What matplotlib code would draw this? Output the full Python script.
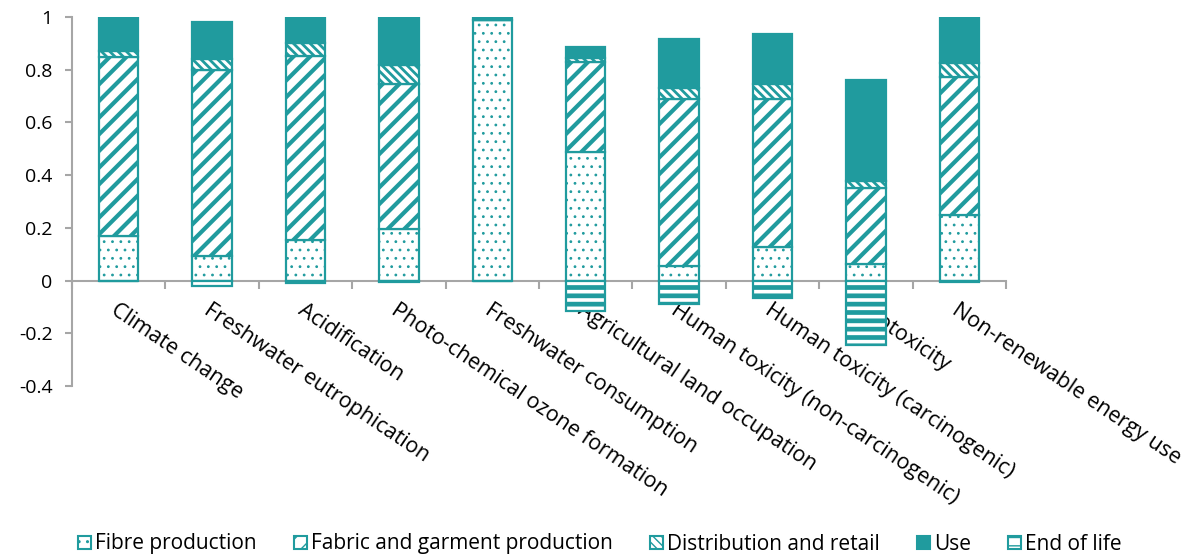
import matplotlib
matplotlib.use("Agg")
import matplotlib.pyplot as plt
import matplotlib.patches as mpatches
import numpy as np

plt.rcParams['font.family'] = ['Open Sans', 'DejaVu Sans']

categories = ["Climate change", "Freshwater eutrophication", "Acidification",
              "Photo-chemical ozone formation", "Freshwater consumption",
              "Agricultural land occupation", "Human toxicity (non-carcinogenic)",
              "Human toxicity (carcinogenic)", "Ecotoxicity", "Non-renewable energy use"]

fibre = [0.170, 0.095, 0.155, 0.197, 0.990, 0.489, 0.055, 0.128, 0.064, 0.250]
fabric = [0.678, 0.705, 0.698, 0.549, 0.000, 0.341, 0.633, 0.560, 0.287, 0.523]
distribution = [0.023, 0.040, 0.047, 0.072, 0.000, 0.015, 0.042, 0.057, 0.027, 0.053]
use = [0.129, 0.140, 0.100, 0.182, 0.010, 0.041, 0.187, 0.189, 0.382, 0.169]
end_of_life = [-0.003, -0.022, -0.008, -0.005, -0.002, -0.117, -0.087, -0.068, -0.243, -0.005]

series = ["Fibre production", "Fabric and garment production",
          "Distribution and retail", "Use", "End of life"]

teal = '#209B9E'
grey = '#A6A6A6'

# hatch style per stage: (face, hatch, hatch line width)
styles = [('white', '..', 0.8),
          ('white', '//', 3.0),
          ('white', '\\\\\\\\', 2.0),
          (teal, None, 1.0),
          ('white', '--', 3.4)]

fig = plt.figure(figsize=(12, 5.57), dpi=100)
ax = fig.add_axes([72 / 1200, 1 - 386 / 557, (1006 - 72) / 1200, (386 - 17) / 557])

x = np.arange(len(categories))
w = 0.42
bottom = np.zeros(len(categories))
stacks = [fibre, fabric, distribution, use]
for vals, (face, hatch, hlw) in zip(stacks, styles[:4]):
    with plt.rc_context({'hatch.linewidth': hlw, 'hatch.color': teal}):
        ax.bar(x, vals, w, bottom=bottom, color=face, edgecolor=teal,
               linewidth=1.6, hatch=hatch, zorder=3)
    bottom = bottom + np.array(vals)

face, hatch, hlw = styles[4]
with plt.rc_context({'hatch.linewidth': hlw, 'hatch.color': teal}):
    ax.bar(x, end_of_life, w, color=face, edgecolor=teal, linewidth=1.6,
           hatch=hatch, zorder=3)

ax.set_xlim(-0.5, len(categories) - 0.5)
ax.set_ylim(-0.4, 1.0)
ax.set_yticks([-0.4, -0.2, 0, 0.2, 0.4, 0.6, 0.8, 1.0])
ax.set_yticklabels(['-0.4', '-0.2', '0', '0.2', '0.4', '0.6', '0.8', '1'])

for s in ['top', 'right']:
    ax.spines[s].set_visible(False)
ax.spines['left'].set_color(grey)
ax.spines['left'].set_linewidth(1.5)
ax.spines['bottom'].set_position(('data', 0))
ax.spines['bottom'].set_color(grey)
ax.spines['bottom'].set_linewidth(1.5)
ax.spines['bottom'].set_zorder(2)

ax.tick_params(axis='y', direction='out', length=5, width=1.5, color=grey,
               labelsize=14, pad=9)
ax.set_xticks(x)
ax.set_xticks(np.arange(len(categories) + 1) - 0.5, minor=True)
ax.tick_params(axis='x', which='major', length=0, pad=14)
ax.tick_params(axis='x', which='minor', direction='out', length=6, width=1.5,
               color=grey)
ax.set_xticklabels(categories, rotation=-34, ha='left', va='top',
                   rotation_mode='anchor', fontsize=15.5)

handles = []
for (face, hatch, hlw) in styles:
    with plt.rc_context({'hatch.linewidth': min(hlw, 1.5), 'hatch.color': teal}):
        handles.append(mpatches.Patch(facecolor=face, edgecolor=teal,
                                      linewidth=1.5, hatch=hatch))
fig.legend(handles, series, loc='center', bbox_to_anchor=(0.5, 1 - 544 / 557),
           ncol=5, frameon=False, fontsize=15, handlelength=0.6,
           handleheight=0.6, handletextpad=0.2, columnspacing=1.8)

fig.savefig("out.png", dpi=100, facecolor='white')
